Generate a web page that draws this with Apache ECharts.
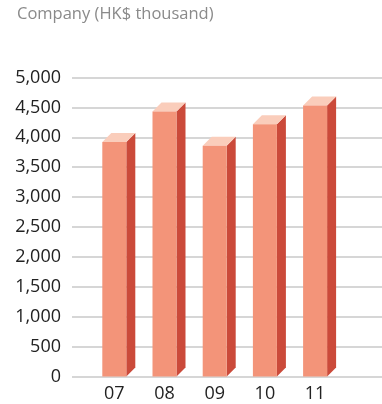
<!DOCTYPE html>
<html>
<head>
<meta charset="utf-8">
<script src="https://cdn.jsdelivr.net/npm/echarts@6/dist/echarts.min.js"></script>
<style>
  html, body { margin: 0; padding: 0; background: #fff; }
  #chart { width: 382px; height: 404px; }
</style>
</head>
<body>
<div id="chart"></div>
<script>
// Yearly figures for the company, in HK$ thousand
const years = ['07', '08', '09', '10', '11'];
const values = [3920, 4430, 3860, 4220, 4530];
const yTicks = [0, 500, 1000, 1500, 2000, 2500, 3000, 3500, 4000, 4500, 5000];

const FONT = '"Open Sans", "Noto Sans", sans-serif';
const FRONT = '#F39479';
const TOPC = '#FACDBB';
const SIDE = '#CB4A3A';

const chart = echarts.init(document.getElementById('chart'), null, { renderer: 'canvas' });

// Extruded column: front rectangle, lighter top face, darker right side
function renderColumn(params, api) {
  const top = api.coord([api.value(0), api.value(1)]);
  const base = api.coord([api.value(0), 0]);
  const w = 24, dx = 9, dy = 9;
  const x = top[0] - w / 2;
  const yt = top[1], yb = base[1];
  return {
    type: 'group',
    children: [
      { type: 'polygon', shape: { points: [[x + w, yt], [x + w + dx, yt - dy], [x + w + dx, yb - dy], [x + w, yb]] }, style: { fill: SIDE } },
      { type: 'polygon', shape: { points: [[x, yt], [x + dx, yt - dy], [x + w + dx, yt - dy], [x + w, yt]] }, style: { fill: TOPC } },
      { type: 'rect', shape: { x: x, y: yt, width: w, height: yb - yt }, style: { fill: FRONT } }
    ]
  };
}

chart.setOption({
  animation: false,
  title: {
    text: 'Company (HK$ thousand)',
    left: 12, top: 1,
    textStyle: { fontFamily: FONT, fontSize: 16.5, fontWeight: 'normal', color: '#8a8a8a' }
  },
  grid: [
    { left: 72, right: 0, top: 77.5, bottom: 27.5 },
    { left: 89.2, width: 251, top: 77.5, bottom: 27.5 }
  ],
  xAxis: [
    { gridIndex: 0, type: 'value', min: 0, max: 1, show: false },
    {
      gridIndex: 1, type: 'category', data: years, boundaryGap: true,
      axisLine: { show: false }, axisTick: { show: false },
      axisLabel: { fontFamily: FONT, fontSize: 18, color: '#222', margin: 8 }
    }
  ],
  yAxis: [
    {
      gridIndex: 0, type: 'value', min: yTicks[0], max: yTicks[yTicks.length - 1], interval: 500,
      axisLine: { show: false }, axisTick: { show: false },
      axisLabel: {
        fontFamily: FONT, fontSize: 18, color: '#222', margin: 11,
        formatter: v => v.toLocaleString('en-US')
      },
      splitLine: { lineStyle: { color: '#c8c8c8', width: 1.5 } }
    },
    { gridIndex: 1, type: 'value', min: yTicks[0], max: yTicks[yTicks.length - 1], show: false }
  ],
  series: [{
    type: 'custom',
    xAxisIndex: 1, yAxisIndex: 1,
    renderItem: renderColumn,
    data: years.map((y, i) => [i, values[i]])
  }]
});
</script>
</body>
</html>
